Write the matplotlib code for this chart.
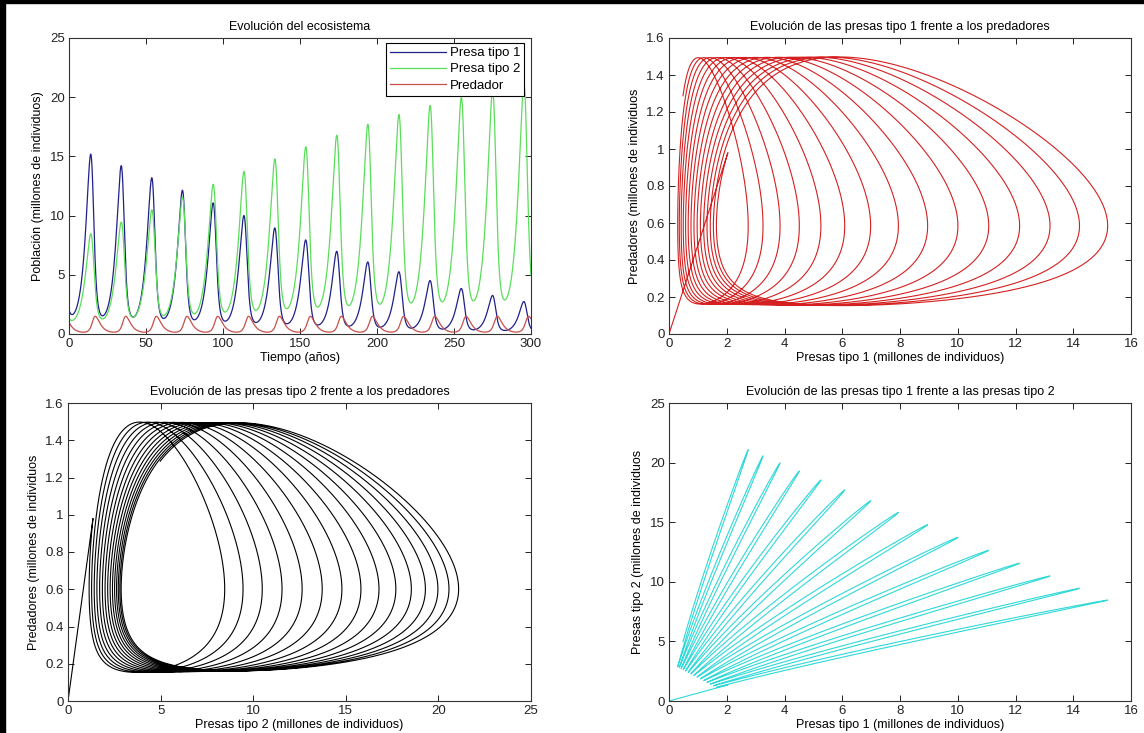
import numpy as np
import matplotlib.pyplot as plt
from matplotlib.patches import Rectangle
from matplotlib.ticker import FuncFormatter

plt.rcParams['font.family'] = ['Liberation Sans', 'DejaVu Sans']

# initial state: presa 1, presa 2, predador
x0 = [2.04, 1.35, 0.98]

# Lotka-Volterra rates (two prey, one predator), tuned to the peaks in the chart
b = [0.5892, 0.5036]     # predation on each prey
a = [0.3445, 0.3029]     # prey growth
c = 0.3689               # predator death
d = [0.0392, 0.03564]    # predator gain from each prey
t_end = 300
dt = 0.01

legend_labels = ['Presa tipo 1', 'Presa tipo 2', 'Predador']


def rhs(x1, x2, y):
    return (x1 * (a[0] - b[0] * y),
            x2 * (a[1] - b[1] * y),
            y * (-c + d[0] * x1 + d[1] * x2))


# RK4 integration, the first stored sample is all zeros (as in the original run)
n = int(round(t_end / dt))
t = np.zeros(n + 2)
X = np.zeros((n + 2, 3))
t[1:] = np.arange(n + 1) * dt
z = list(x0)
X[1] = z
for i in range(n):
    k1 = rhs(*z)
    k2 = rhs(*[z[j] + 0.5 * dt * k1[j] for j in range(3)])
    k3 = rhs(*[z[j] + 0.5 * dt * k2[j] for j in range(3)])
    k4 = rhs(*[z[j] + dt * k3[j] for j in range(3)])
    z = [z[j] + dt / 6 * (k1[j] + 2 * k2[j] + 2 * k3[j] + k4[j]) for j in range(3)]
    X[i + 2] = z
p1, p2, pred = X[:, 0], X[:, 1], X[:, 2]

fmt = FuncFormatter(lambda v, pos: '%g' % round(v, 6))


def style(ax, xt, yt):
    ax.set_xticks(xt)
    ax.set_yticks(yt)
    ax.set_xlim(xt[0], xt[-1])
    ax.set_ylim(yt[0], yt[-1])
    ax.xaxis.set_major_formatter(fmt)
    ax.yaxis.set_major_formatter(fmt)
    ax.tick_params(direction='in', top=True, right=True, length=4, width=0.7,
                   labelsize=9.5, pad=3, colors='#222222')
    for sp in ax.spines.values():
        sp.set_linewidth(0.8)
        sp.set_color('#333333')


fig = plt.figure(figsize=(11.44, 7.33), dpi=100)
W, H = 1144, 733
ax1 = fig.add_axes([69 / W, 1 - 334 / H, 462 / W, 296 / H])
ax2 = fig.add_axes([669 / W, 1 - 334 / H, 462 / W, 296 / H])
ax3 = fig.add_axes([68 / W, 1 - 701 / H, 463 / W, 298 / H])
ax4 = fig.add_axes([669 / W, 1 - 701 / H, 462 / W, 298 / H])

fs = 9

# time series
ax1.plot(t, p1, color='#20208a', lw=0.9, label=legend_labels[0])
ax1.plot(t, p2, color='#5ade5a', lw=0.9, label=legend_labels[1])
ax1.plot(t, pred, color='#c8504a', lw=0.9, label=legend_labels[2])
style(ax1, np.arange(0, 301, 50), np.arange(0, 26, 5))
ax1.set_title('Evolución del ecosistema', fontsize=fs, pad=6)
ax1.set_xlabel('Tiempo (años)', fontsize=fs, labelpad=1)
ax1.set_ylabel('Población (millones de individuos)', fontsize=fs, labelpad=4)
leg = ax1.legend(loc='upper right', bbox_to_anchor=(1 - 7 / 462, 1 - 5 / 296),
                 borderaxespad=0, fancybox=False, framealpha=1, fontsize=9.5,
                 handlelength=4.2, handletextpad=0.3, borderpad=0.3, labelspacing=0.3)
leg.get_frame().set_edgecolor('black')
leg.get_frame().set_linewidth(0.8)

# presa 1 vs predador
ax2.plot(p1, pred, color='#d42020', lw=0.8)
style(ax2, np.arange(0, 17, 2), np.round(np.arange(0, 1.61, 0.2), 1))
ax2.set_title('Evolución de las presas tipo 1 frente a los predadores', fontsize=fs, pad=6)
ax2.set_xlabel('Presas tipo 1 (millones de individuos)', fontsize=fs, labelpad=1)
ax2.set_ylabel('Predadores (millones de individuos', fontsize=fs, labelpad=4)

# presa 2 vs predador
ax3.plot(p2, pred, color='black', lw=0.8)
style(ax3, np.arange(0, 26, 5), np.round(np.arange(0, 1.61, 0.2), 1))
ax3.set_title('Evolución de las presas tipo 2 frente a los predadores', fontsize=fs, pad=6)
ax3.set_xlabel('Presas tipo 2 (millones de individuos)', fontsize=fs, labelpad=1)
ax3.set_ylabel('Predadores (millones de individuos', fontsize=fs, labelpad=4)

# presa 1 vs presa 2
ax4.plot(p1, p2, color='#30d8d8', lw=0.8)
style(ax4, np.arange(0, 17, 2), np.arange(0, 26, 5))
ax4.set_title('Evolución de las presas tipo 1 frente a las presas tipo 2', fontsize=fs, pad=6)
ax4.set_xlabel('Presas tipo 1 (millones de individuos)', fontsize=fs, labelpad=1)
ax4.set_ylabel('Presas tipo 2 (millones de individuos', fontsize=fs, labelpad=4)

# screenshot frame
fig.add_artist(Rectangle((0, 1 - 3 / H), 1, 3 / H, transform=fig.transFigure, color='black'))
fig.add_artist(Rectangle((0, 0), 5 / W, 1, transform=fig.transFigure, color='black'))

fig.savefig('out.png', dpi=100)
